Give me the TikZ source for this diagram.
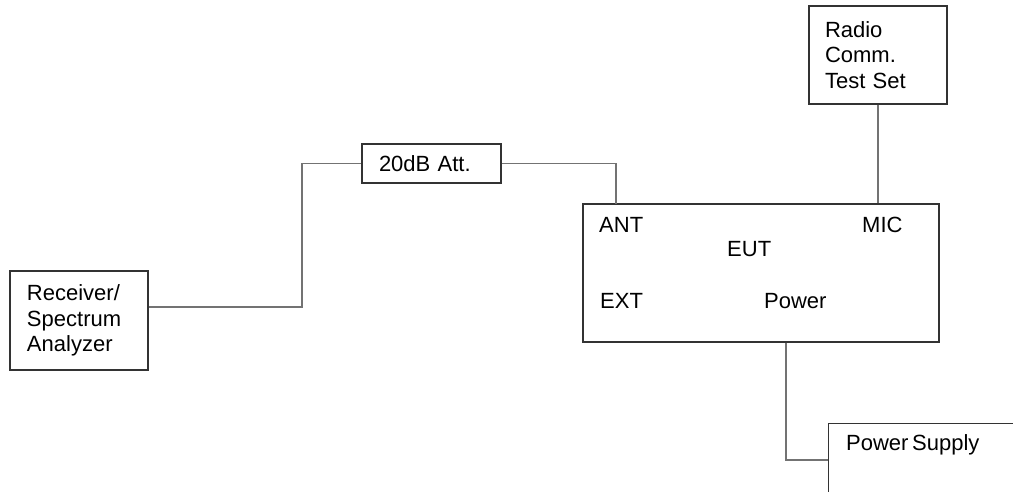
\documentclass[tikz,border=0pt]{standalone}
\usepackage{fontspec}
\setmainfont[WordSpace=0.6]{Liberation Sans}
\usetikzlibrary{positioning}

\begin{document}
\begin{tikzpicture}[x=1pt,y=-1pt,
                font=\fontsize{22}{25.5}\selectfont,
                box/.style={draw=black!80,line width=1.3pt,align=left,inner ysep=0pt},
                wire/.style={draw=black!55,line width=1.5pt},
                lbl/.style={anchor=west,inner sep=0pt}]
                \useasboundingbox (0,0) rectangle (1013,491);

                % Define the boxes as nodes
                \node[box,text width=104pt,inner xsep=17pt,minimum height=99pt] (rx) at (79,320.5) {Receiver/\\Spectrum\\Analyzer};
                \node[box,text width=105pt,inner xsep=17pt,minimum height=39pt] (att) at (431.5,163.5) {20dB Att.};
                \node[box,text width=106pt,inner xsep=16pt,minimum height=98pt] (radio) at (878,55) {Radio\\Comm.\\Test Set};
                \node[box,minimum width=356pt,minimum height=138pt] (eut) at (761,273) {};
                \node[box,anchor=north west,minimum width=230pt,minimum height=110pt] (psbox) at (828,423) {};

                % Labels inside the boxes
                \node[lbl] (antlbl) at (599,225) {ANT};
                \node[lbl] (miclbl) at (862,225) {MIC};
                \node[lbl] (eutlbl) at (727,249) {EUT};
                \node[lbl] (extlbl) at (600,301) {EXT};
                \node[lbl] (pwrlbl) at (764,301) {Power};
                \node[lbl] (pslbl)  at (846,445) {Power Supply};

                % Bend points of the cables
                \coordinate (rxbend)  at (302,307);
                \coordinate (anttap)  at (616,204);
                \coordinate (pwrbend) at (786,460);

                % Connect the boxes with cables
                \draw[wire] (rx.east |- rxbend) -- (rxbend) |- (att.west);
                \draw[wire] (att.east) -| (anttap);
                \draw[wire] (radio.south) -- (radio.south |- eut.north);
                \draw[wire] (pwrbend |- eut.south) -- (pwrbend) -- (pwrbend -| psbox.west);

            \end{tikzpicture}
\end{document}
